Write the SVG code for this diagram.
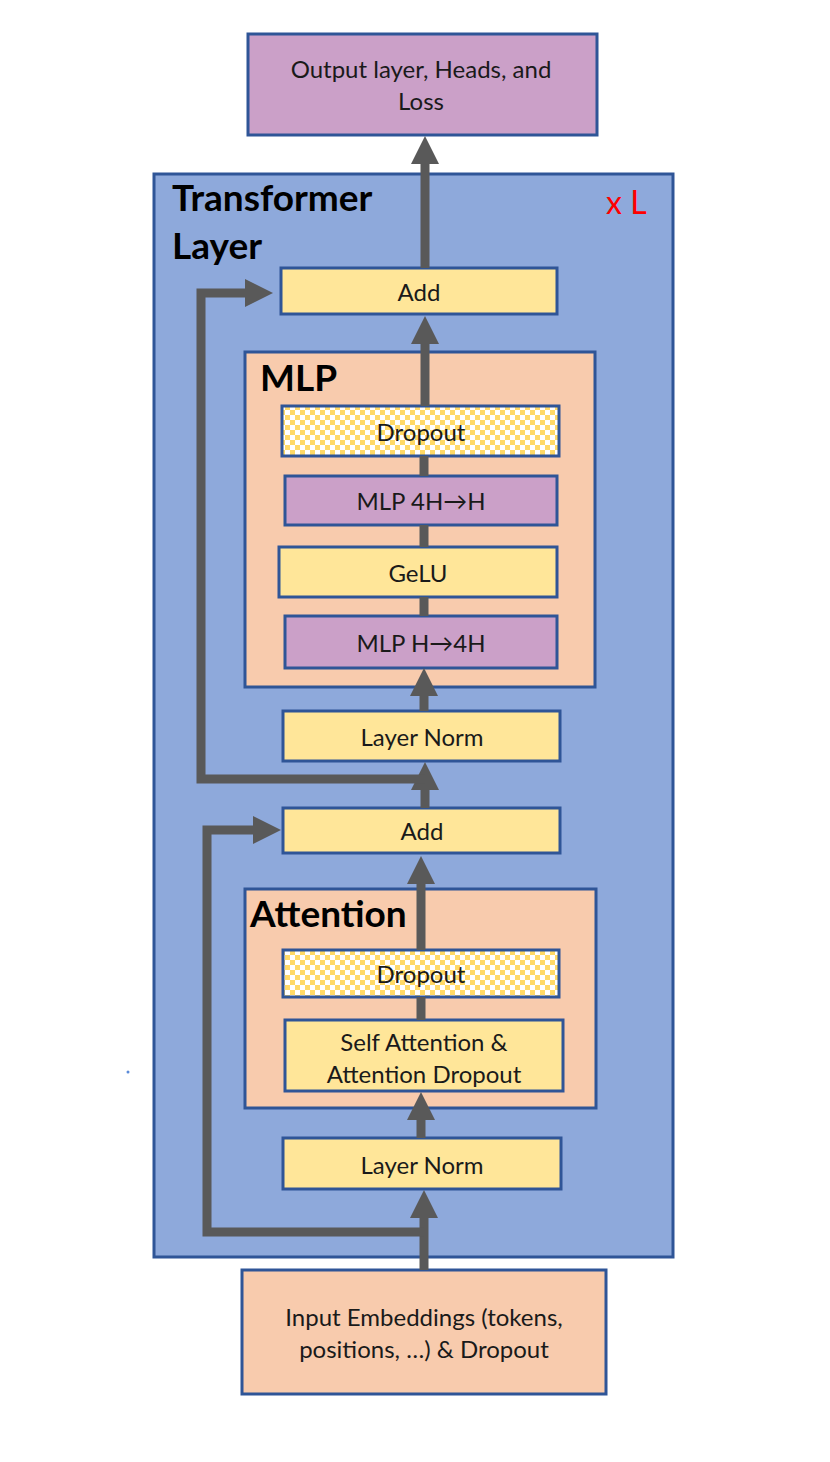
<svg xmlns="http://www.w3.org/2000/svg" width="830" height="1462" viewBox="0 0 830 1462">
<style>
.box{stroke:#2F5597;stroke-width:3}
.blue{fill:#8EA9DB}
.peach{fill:#F8CBAD}
.yellow{fill:#FFE699}
.purple{fill:#CBA0C8}
.drop{fill:url(#checker)}
.t{font-family:Lato,"Liberation Sans",sans-serif;font-size:24px;fill:#1a1a1a;text-anchor:middle;dominant-baseline:central}
.title{font-family:Lato,"Liberation Sans",sans-serif;font-size:37px;font-weight:bold;fill:#000}
.conn{fill:none;stroke:#595959;stroke-width:9;stroke-linejoin:miter}
</style>
<defs>
<pattern id="checker" x="0" y="0" width="10" height="10" patternUnits="userSpaceOnUse">
<rect width="10" height="10" fill="#FFFFFF"/>
<rect width="5" height="5" fill="#FFD966"/>
<rect x="5" y="5" width="5" height="5" fill="#FFD966"/>
</pattern>
<marker id="ah" markerUnits="userSpaceOnUse" markerWidth="28" markerHeight="28" refX="0" refY="14" orient="auto" viewBox="0 0 28 28">
<path d="M0,0 L28,14 L0,28 z" fill="#595959"/>
</marker>
</defs>
<rect width="830" height="1462" fill="#FFFFFF"/>

<g id="transformer-layer">
<rect class="box blue" x="154" y="174" width="519" height="1083"/>
<text class="title" x="172" y="211">Transformer</text>
<text class="title" x="172" y="259">Layer</text>
<text x="606" y="214" font-family="Lato,'Liberation Sans',sans-serif" font-size="32" fill="#FF0000">x L</text>
</g>

<g id="output">
<rect class="box purple" x="248" y="34" width="349" height="101"/>
<text class="t" x="421" y="68">Output layer, Heads, and</text>
<text class="t" x="421" y="100">Loss</text>
</g>

<g id="add-top">
<rect class="box yellow" x="281" y="268" width="276" height="46"/>
<text class="t" x="419" y="291">Add</text>
</g>

<g id="mlp">
<rect class="box peach" x="245" y="352" width="350" height="335"/>
<text class="title" x="260" y="391">MLP</text>
</g>

<g id="mlp-dropout">
<rect class="box drop" x="282" y="406" width="277" height="50"/>
<text class="t" x="421" y="431">Dropout</text>
</g>

<g id="mlp-4h-h">
<rect class="box purple" x="285" y="476" width="272" height="49"/>
<text class="t" x="421" y="500">MLP 4H→H</text>
</g>

<g id="gelu">
<rect class="box yellow" x="279" y="547" width="278" height="50"/>
<text class="t" x="418" y="572">GeLU</text>
</g>

<g id="mlp-h-4h">
<rect class="box purple" x="285" y="616" width="272" height="52"/>
<text class="t" x="421" y="642">MLP H→4H</text>
</g>

<g id="layernorm-top">
<rect class="box yellow" x="283" y="711" width="277" height="50"/>
<text class="t" x="422" y="736">Layer Norm</text>
</g>

<g id="add-bottom">
<rect class="box yellow" x="283" y="808" width="277" height="45"/>
<text class="t" x="422" y="830">Add</text>
</g>

<g id="attention">
<rect class="box peach" x="245" y="889" width="351" height="219"/>
<text class="title" x="250" y="927">Attention</text>
</g>

<g id="attn-dropout">
<rect class="box drop" x="283" y="950" width="276" height="47"/>
<text class="t" x="421" y="973">Dropout</text>
</g>

<g id="self-attention">
<rect class="box yellow" x="285" y="1020" width="278" height="71"/>
<text class="t" x="424" y="1041">Self Attention &amp;</text>
<text class="t" x="424" y="1073">Attention Dropout</text>
</g>

<g id="layernorm-bottom">
<rect class="box yellow" x="283" y="1138" width="278" height="51"/>
<text class="t" x="422" y="1164">Layer Norm</text>
</g>

<g id="input">
<rect class="box peach" x="242" y="1270" width="364" height="124"/>
<text class="t" x="424" y="1316">Input Embeddings (tokens,</text>
<text class="t" x="424" y="1348">positions, …) &amp; Dropout</text>
</g>

<g id="connectors">
<path class="conn" d="M424,1270 V1218" marker-end="url(#ah)"/>
<path class="conn" d="M424,1232 H207 V830 H253" marker-end="url(#ah)"/>
<path class="conn" d="M421,1138 V1120" marker-end="url(#ah)"/>
<path class="conn" d="M421,1020 V997"/>
<path class="conn" d="M421,950 V884" marker-end="url(#ah)"/>
<path class="conn" d="M425,808 V790" marker-end="url(#ah)"/>
<path class="conn" d="M425,779 H201 V293 H245" marker-end="url(#ah)"/>
<path class="conn" d="M424,711 V696" marker-end="url(#ah)"/>
<path class="conn" d="M424,616 V597" stroke-width="8"/>
<path class="conn" d="M424,547 V525" stroke-width="8"/>
<path class="conn" d="M424,476 V456" stroke-width="8"/>
<path class="conn" d="M425,406 V344" marker-end="url(#ah)"/>
<path class="conn" d="M425,268 V164" marker-end="url(#ah)"/>
</g>

<circle cx="128" cy="1072" r="1.5" fill="#5B8BD9"/>
</svg>
